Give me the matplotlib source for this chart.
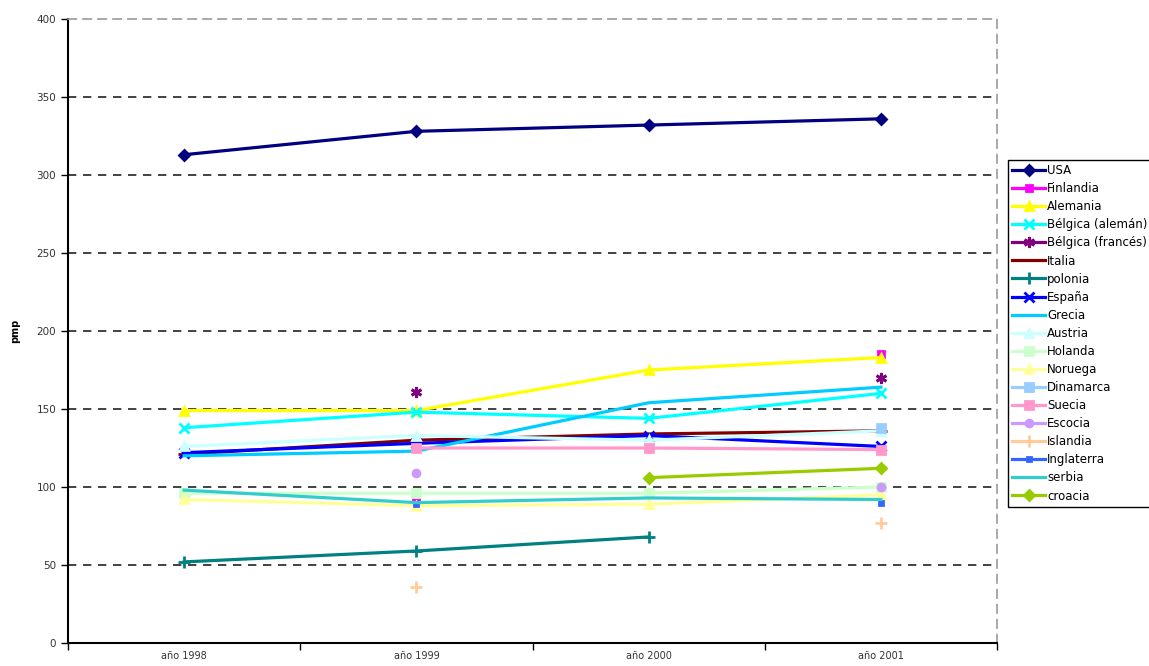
import numpy as np
from matplotlib import pyplot as plt

nan = np.nan
years = ["año 1998", "año 1999", "año 2000", "año 2001"]

usa = [313, 328, 332, 336]
finlandia = [nan, 91, nan, 185]
alemania = [149, 149, 175, 183]
belgica_al = [138, 148, 144, 160]
belgica_fr = [nan, 161, nan, 170]
italia = [121, 130, 134, 136]
polonia = [52, 59, 68, nan]
espana = [122, 128, 133, 126]
grecia = [120, 123, 154, 164]
austria = [126, 133, 130, 136]
holanda = [96, 96, 96, 100]
noruega = [92, 88, 89, 95]
dinamarca = [nan, nan, nan, 138]
suecia = [nan, 125, 125, 124]
escocia = [nan, 109, nan, 100]
islandia = [nan, 36, nan, 77]
inglaterra = [nan, 89, nan, 90]
serbia = [98, 90, 93, 92]
croacia = [nan, nan, 106, 112]

# (label, values, colour, marker, marker size)
series = [
    ("USA", usa, "#000080", "D", 5),
    ("Finlandia", finlandia, "#FF00FF", "s", 5),
    ("Alemania", alemania, "#FFFF00", "^", 6),
    ("Bélgica (alemán)", belgica_al, "#00FFFF", "x", 7),
    ("Bélgica (francés)", belgica_fr, "#800080", (6, 2, 0), 8),
    ("Italia", italia, "#800000", "_", 8),
    ("polonia", polonia, "#008080", "+", 8),
    ("España", espana, "#0000FF", "x", 7),
    ("Grecia", grecia, "#00CCFF", None, 0),
    ("Austria", austria, "#CCFFFF", "^", 6),
    ("Holanda", holanda, "#CCFFCC", "s", 6),
    ("Noruega", noruega, "#FFFF99", "^", 6),
    ("Dinamarca", dinamarca, "#99CCFF", "s", 6),
    ("Suecia", suecia, "#FF99CC", "s", 6),
    ("Escocia", escocia, "#CC99FF", "o", 5),
    ("Islandia", islandia, "#FFCC99", "+", 8),
    ("Inglaterra", inglaterra, "#3366FF", "s", 3),
    ("serbia", serbia, "#33CCCC", None, 0),
    ("croacia", croacia, "#99CC00", "D", 5),
]

fig = plt.figure(figsize=(11.49, 6.66), dpi=100)
ax = fig.add_axes([0.0592, 0.0345, 0.8085, 0.937])

x = np.arange(len(years)) + 0.5
for name, vals, col, mk, ms in series:
    ax.plot(x, vals, color=col, lw=2.3, marker=mk, ms=ms, mew=2,
            mfc=col, mec=col, label=name)

ax.set_xlim(0, 4)
ax.set_ylim(0, 400)
ax.set_yticks(np.arange(0, 401, 50))
for v in range(50, 400, 50):
    ax.axhline(v, color="#222222", ls=(0, (5, 4)), lw=1.2, zorder=0)

ax.set_xticks(np.arange(0, 5))
ax.set_xticklabels([])
ax.set_xticks(x, minor=True)
ax.set_xticklabels(years, minor=True)
ax.tick_params(axis="x", which="major", direction="out", length=5, width=1)
ax.tick_params(axis="x", which="minor", length=0, pad=6, labelsize=7,
               labelcolor="#333333")
ax.tick_params(axis="y", direction="out", length=5, width=1, labelsize=7.5,
               labelcolor="#333333")

for side in ("top", "right"):
    ax.spines[side].set_color("#999999")
    ax.spines[side].set_linestyle((0, (5, 4)))
    ax.spines[side].set_linewidth(1.2)
for side in ("left", "bottom"):
    ax.spines[side].set_linewidth(1.5)

ax.set_ylabel("pmp", fontsize=7, fontweight="bold", labelpad=12)

fig.legend(loc="upper left", bbox_to_anchor=(1008 / 1149, 1 - 160 / 666),
           fontsize=8.5, labelspacing=0.43, handlelength=2.8,
           handletextpad=0.15, borderpad=0.35, borderaxespad=0,
           fancybox=False, edgecolor="black", framealpha=1)

fig.savefig("out.png", dpi=100)
